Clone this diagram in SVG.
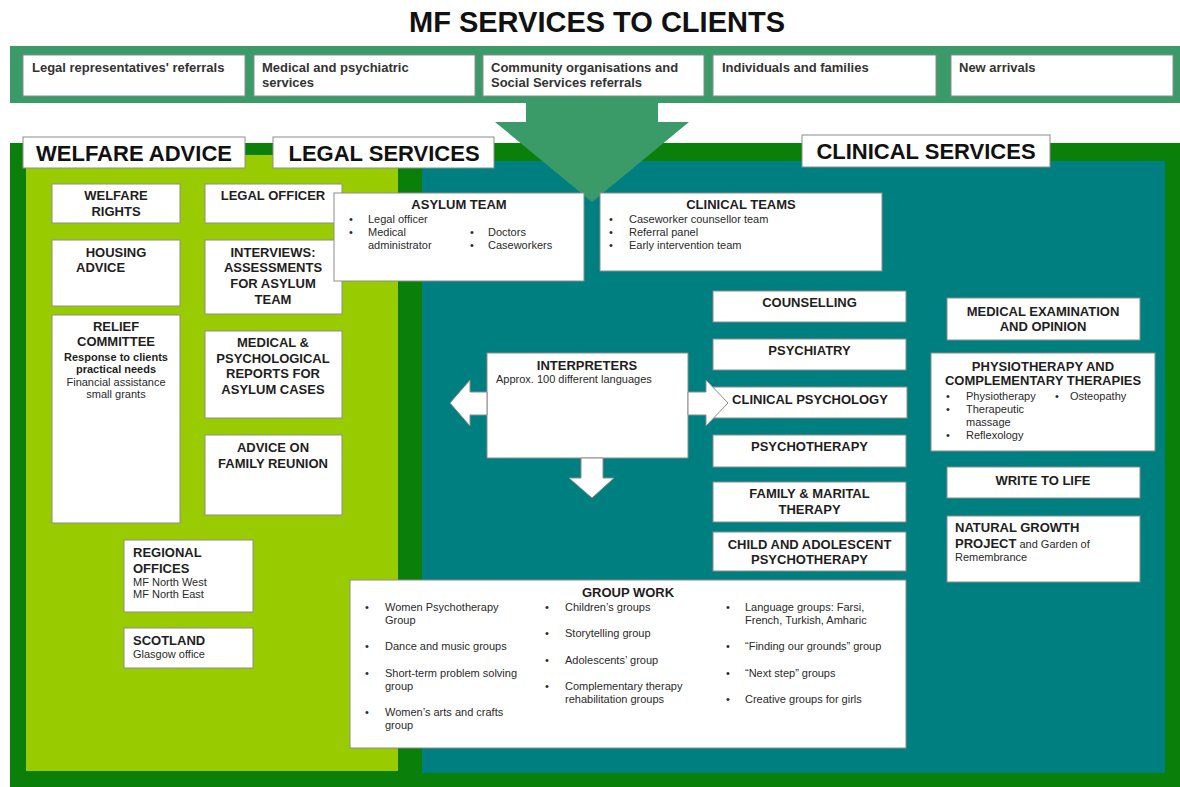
<svg xmlns="http://www.w3.org/2000/svg" width="1180" height="787" viewBox="0 0 1180 787">
<style>
.box{fill:#fff;stroke:#8c8c8c;stroke-width:1}
text{font-family:'Liberation Sans',Arial,sans-serif;fill:#1e1e1e}
.h{font-weight:bold;font-size:13px;text-anchor:middle}
.hl{font-weight:bold;font-size:13px}
.s{font-size:11px;fill:#2a2a2a}
.sb{font-size:11px;font-weight:bold}
.sc{font-size:11px;fill:#2a2a2a;text-anchor:middle}
.sbc{font-size:11px;font-weight:bold;text-anchor:middle}
.top{font-size:13px;font-weight:bold;fill:#333}
.lab{font-size:22px;font-weight:bold;text-anchor:middle;fill:#111}
.arr{fill:#fff;stroke:#8c8c8c;stroke-width:1}
</style>
<rect width="1180" height="787" fill="#fff"/>
<text x="597" y="32" style="font-size:29px;font-weight:bold;text-anchor:middle;fill:#111">MF SERVICES TO CLIENTS</text>

<!-- backgrounds -->
<rect x="10" y="46" width="1170" height="57" fill="#3a9a68"/>
<rect x="10" y="143" width="1170" height="644" fill="#0a800a"/>
<rect x="26" y="155" width="372" height="616" fill="#99cc00"/>
<rect x="422" y="161" width="743" height="612" fill="#007f80"/>
<polygon points="526,103 658,103 658,122 689,122 592,202 495,122 526,122" fill="#3a9a68"/>

<!-- referral sources -->
<g id="src-legal"><rect class="box" x="23" y="55" width="222" height="41"/><text class="top" x="32" y="72">Legal representatives' referrals</text></g>
<g id="src-medical"><rect class="box" x="254" y="55" width="221" height="41"/><text class="top" x="262" y="72">Medical and psychiatric</text><text class="top" x="262" y="87">services</text></g>
<g id="src-community"><rect class="box" x="483" y="55" width="221" height="41"/><text class="top" x="491" y="72">Community organisations and</text><text class="top" x="491" y="87">Social Services referrals</text></g>
<g id="src-individuals"><rect class="box" x="713" y="55" width="223" height="41"/><text class="top" x="722" y="72">Individuals and families</text></g>
<g id="src-new"><rect class="box" x="951" y="55" width="222" height="41"/><text class="top" x="959" y="72">New arrivals</text></g>

<!-- section labels -->
<g id="label-welfare"><rect class="box" x="23" y="137" width="222" height="31"/><text class="lab" x="134" y="161">WELFARE ADVICE</text></g>
<g id="label-legal"><rect class="box" x="273" y="137" width="221" height="31"/><text class="lab" x="384" y="161">LEGAL SERVICES</text></g>
<g id="label-clinical"><rect class="box" x="802" y="135" width="248" height="32"/><text class="lab" x="926" y="159">CLINICAL SERVICES</text></g>

<!-- welfare column -->
<g id="welfare-rights"><rect class="box" x="52" y="184" width="128" height="39"/><text class="h" x="116" y="200">WELFARE</text><text class="h" x="116" y="216">RIGHTS</text></g>
<g id="housing-advice"><rect class="box" x="52" y="240" width="128" height="66"/><text class="h" x="116" y="257">HOUSING</text><text class="hl" x="76" y="272">ADVICE</text></g>
<g id="relief-committee"><rect class="box" x="52" y="315" width="128" height="208"/><text class="h" x="116" y="331">RELIEF</text><text class="h" x="116" y="346">COMMITTEE</text><text class="sbc" x="116" y="361">Response to clients</text><text class="sbc" x="116" y="373">practical needs</text><text class="sc" x="116" y="386">Financial assistance</text><text class="sc" x="116" y="398">small grants</text></g>
<g id="regional-offices"><rect class="box" x="124" y="540" width="129" height="72"/><text class="hl" x="133" y="557">REGIONAL</text><text class="hl" x="133" y="573">OFFICES</text><text class="s" x="133" y="586">MF North West</text><text class="s" x="133" y="598">MF North East</text></g>
<g id="scotland"><rect class="box" x="124" y="628" width="129" height="40"/><text class="hl" x="133" y="645">SCOTLAND</text><text class="s" x="133" y="658">Glasgow office</text></g>

<!-- legal column -->
<g id="legal-officer"><rect class="box" x="205" y="184" width="137" height="39"/><text class="h" x="273" y="200">LEGAL OFFICER</text></g>
<g id="interviews"><rect class="box" x="205" y="240" width="137" height="74"/><text class="h" x="273" y="257">INTERVIEWS:</text><text class="h" x="273" y="272">ASSESSMENTS</text><text class="h" x="273" y="288">FOR ASYLUM</text><text class="h" x="273" y="304">TEAM</text></g>
<g id="reports"><rect class="box" x="205" y="331" width="137" height="87"/><text class="h" x="273" y="347">MEDICAL &amp;</text><text class="h" x="273" y="363">PSYCHOLOGICAL</text><text class="h" x="273" y="378">REPORTS FOR</text><text class="h" x="273" y="394">ASYLUM CASES</text></g>
<g id="family-reunion"><rect class="box" x="205" y="435" width="137" height="80"/><text class="h" x="273" y="452">ADVICE ON</text><text class="h" x="273" y="468">FAMILY REUNION</text></g>

<!-- teams -->
<g id="asylum-team"><rect class="box" x="334" y="193" width="250" height="88"/><text class="h" x="459" y="209">ASYLUM TEAM</text>
<text class="s" x="349" y="223">•</text><text class="s" x="368" y="223">Legal officer</text>
<text class="s" x="349" y="236">•</text><text class="s" x="368" y="236">Medical</text><text class="s" x="368" y="249">administrator</text>
<text class="s" x="470" y="236">•</text><text class="s" x="488" y="236">Doctors</text>
<text class="s" x="470" y="249">•</text><text class="s" x="488" y="249">Caseworkers</text></g>
<g id="clinical-teams"><rect class="box" x="600" y="193" width="282" height="78"/><text class="h" x="741" y="209">CLINICAL TEAMS</text>
<text class="s" x="609" y="223">•</text><text class="s" x="629" y="223">Caseworker counsellor team</text>
<text class="s" x="609" y="236">•</text><text class="s" x="629" y="236">Referral panel</text>
<text class="s" x="609" y="249">•</text><text class="s" x="629" y="249">Early intervention team</text></g>

<g id="interpreters"><rect class="box" x="487" y="353" width="201" height="105"/><text class="h" x="587" y="370">INTERPRETERS</text><text class="s" x="496" y="383">Approx. 100 different languages</text></g>

<!-- clinical services list -->
<g id="counselling"><rect class="box" x="713" y="291" width="193" height="31"/><text class="h" x="809.5" y="307">COUNSELLING</text></g>
<g id="psychiatry"><rect class="box" x="713" y="339" width="193" height="31"/><text class="h" x="809.5" y="355">PSYCHIATRY</text></g>
<g id="clinical-psychology"><rect class="box" x="713" y="387" width="194" height="31"/><text class="h" x="810" y="404">CLINICAL PSYCHOLOGY</text></g>
<g id="psychotherapy"><rect class="box" x="713" y="435" width="193" height="32"/><text class="h" x="809.5" y="451">PSYCHOTHERAPY</text></g>
<g id="family-marital"><rect class="box" x="713" y="482" width="193" height="40"/><text class="h" x="809.5" y="498">FAMILY &amp; MARITAL</text><text class="h" x="809.5" y="514">THERAPY</text></g>
<g id="child-adolescent"><rect class="box" x="713" y="532" width="193" height="39"/><text class="h" x="809.5" y="549">CHILD AND ADOLESCENT</text><text class="h" x="809.5" y="564">PSYCHOTHERAPY</text></g>

<g id="medical-examination"><rect class="box" x="947" y="298" width="193" height="42"/><text class="h" x="1043" y="316">MEDICAL EXAMINATION</text><text class="h" x="1043" y="331">AND OPINION</text></g>
<g id="physiotherapy"><rect class="box" x="931" y="353" width="224" height="98"/><text class="h" x="1043" y="371">PHYSIOTHERAPY AND</text><text class="h" x="1043" y="385">COMPLEMENTARY THERAPIES</text>
<text class="s" x="946" y="400">•</text><text class="s" x="966" y="400">Physiotherapy</text>
<text class="s" x="946" y="413">•</text><text class="s" x="966" y="413">Therapeutic</text><text class="s" x="966" y="426">massage</text>
<text class="s" x="946" y="439">•</text><text class="s" x="966" y="439">Reflexology</text>
<text class="s" x="1055" y="400">•</text><text class="s" x="1070" y="400">Osteopathy</text></g>
<g id="write-to-life"><rect class="box" x="947" y="467" width="193" height="31"/><text class="h" x="1043" y="485">WRITE TO LIFE</text></g>
<g id="natural-growth"><rect class="box" x="947" y="516" width="193" height="66"/><text class="hl" x="955" y="532">NATURAL GROWTH</text><text x="955" y="548"><tspan class="hl">PROJECT</tspan><tspan class="s"> and Garden of</tspan></text><text class="s" x="955" y="561">Remembrance</text></g>

<g id="group-work"><rect class="box" x="350" y="580" width="556" height="168"/><text class="h" x="628" y="597">GROUP WORK</text>
<text class="s" x="365" y="611">•</text><text class="s" x="385" y="611">Women Psychotherapy</text><text class="s" x="385" y="624">Group</text>
<text class="s" x="365" y="650">•</text><text class="s" x="385" y="650">Dance and music groups</text>
<text class="s" x="365" y="677">•</text><text class="s" x="385" y="677">Short-term problem solving</text><text class="s" x="385" y="690">group</text>
<text class="s" x="365" y="716">•</text><text class="s" x="385" y="716">Women’s arts and crafts</text><text class="s" x="385" y="729">group</text>
<text class="s" x="545" y="611">•</text><text class="s" x="565" y="611">Children’s groups</text>
<text class="s" x="545" y="637">•</text><text class="s" x="565" y="637">Storytelling group</text>
<text class="s" x="545" y="664">•</text><text class="s" x="565" y="664">Adolescents’ group</text>
<text class="s" x="545" y="690">•</text><text class="s" x="565" y="690">Complementary therapy</text><text class="s" x="565" y="703">rehabilitation groups</text>
<text class="s" x="726" y="611">•</text><text class="s" x="745" y="611">Language groups: Farsi,</text><text class="s" x="745" y="624">French, Turkish, Amharic</text>
<text class="s" x="726" y="650">•</text><text class="s" x="745" y="650">“Finding our grounds” group</text>
<text class="s" x="726" y="677">•</text><text class="s" x="745" y="677">“Next step” groups</text>
<text class="s" x="726" y="703">•</text><text class="s" x="745" y="703">Creative groups for girls</text></g>

<!-- connectors: block arrows from interpreters -->
<g id="connectors">
<polygon class="arr" points="487,392 470,392 470,380 450,403 470,426 470,415 487,415"/>
<polygon class="arr" points="688,392 706,392 706,380 728,403 706,426 706,415 688,415"/>
<polygon class="arr" points="581,458 603,458 603,478 614,478 592,498 569,478 581,478"/>
</g>
</svg>
